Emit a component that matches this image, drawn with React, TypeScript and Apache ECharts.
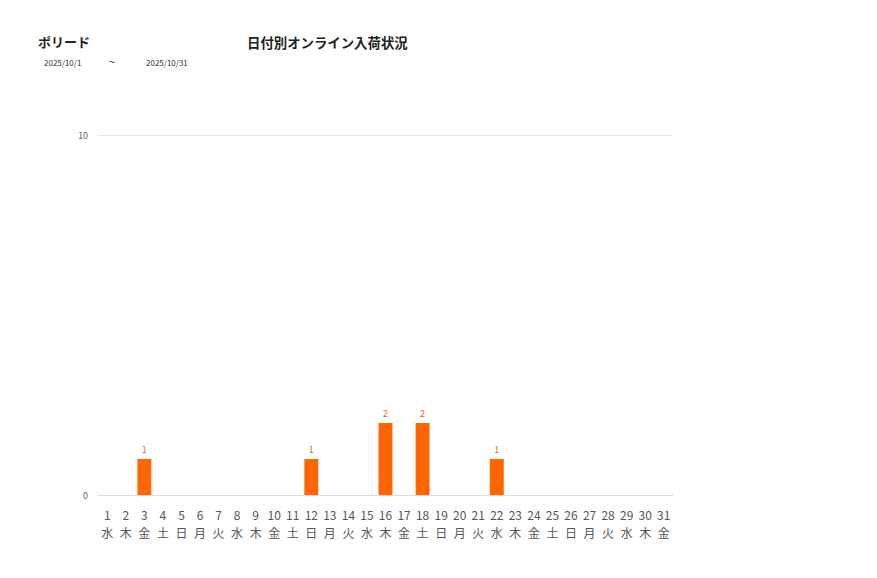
import React, { useEffect, useRef } from "react";
import * as echarts from "echarts";

const days = Array.from({ length: 31 }, (_, i) => String(i + 1));
const weekdays = [
  "水", "木", "金", "土", "日", "月", "火",
  "水", "木", "金", "土", "日", "月", "火",
  "水", "木", "金", "土", "日", "月", "火",
  "水", "木", "金", "土", "日", "月", "火",
  "水", "木", "金",
];
const values = [0, 0, 1, 0, 0, 0, 0, 0, 0, 0, 0, 1, 0, 0, 0, 2, 0, 2, 0, 0, 0, 1, 0, 0, 0, 0, 0, 0, 0, 0, 0];
const yTicks = { min: 0, max: 10, interval: 10 };
const titleText = "日付別オンライン入荷状況";
const brandText = "ポリード";
const dateFrom = "2025/10/1";
const dateTo = "2025/10/31";

const FONT = "'Noto Sans CJK JP', 'Noto Sans', sans-serif";

export default function App() {
  const ref = useRef<HTMLDivElement>(null);
  useEffect(() => {
    if (!ref.current) return;
    const chart = echarts.init(ref.current, null, { renderer: "svg" });
    chart.setOption({
      animation: false,
      backgroundColor: "#fff",
      textStyle: { fontFamily: FONT },
      graphic: [
        { type: "text", left: 38, top: 35, style: { text: brandText, font: `bold 13px ${FONT}`, fill: "#222" } },
        { type: "text", left: 247, top: 35, style: { text: titleText, font: `bold 13.4px ${FONT}`, fill: "#222" } },
        { type: "text", left: 44, top: 58, style: { text: dateFrom, font: `8px ${FONT}`, fill: "#333" } },
        { type: "text", left: 109, top: 55, style: { text: "~", font: `11px ${FONT}`, fill: "#333" } },
        { type: "text", left: 146, top: 58, style: { text: dateTo, font: `8px ${FONT}`, fill: "#333" } },
      ],
      grid: { left: 98, top: 135, width: 575, height: 360, containLabel: false },
      xAxis: {
        type: "category",
        data: days.map((d, i) => `${d}\n${weekdays[i]}`),
        axisLine: { lineStyle: { color: "#dddddd" } },
        axisTick: { show: false },
        axisLabel: {
          interval: 0,
          color: "#555",
          fontSize: 12,
          lineHeight: 18,
          margin: 10,
          fontFamily: FONT,
        },
      },
      yAxis: {
        type: "value",
        min: yTicks.min,
        max: yTicks.max,
        interval: yTicks.interval,
        axisLine: { show: false },
        axisTick: { show: false },
        splitLine: { lineStyle: { color: "#e6e6e6" } },
        axisLabel: { color: "#666", fontSize: 9, margin: 10 },
      },
      series: [
        {
          type: "bar",
          data: values,
          barWidth: "75%",
          itemStyle: { color: "#ff6600" },
          label: {
            show: true,
            position: "top",
            color: "#e07020",
            fontSize: 9,
            formatter: (p: any) => (p.value > 0 ? String(p.value) : ""),
          },
        },
      ],
    });
    return () => chart.dispose();
  }, []);
  return <div ref={ref} style={{ position: "fixed", left: 0, top: 0, width: 877, height: 578 }} />;
}
